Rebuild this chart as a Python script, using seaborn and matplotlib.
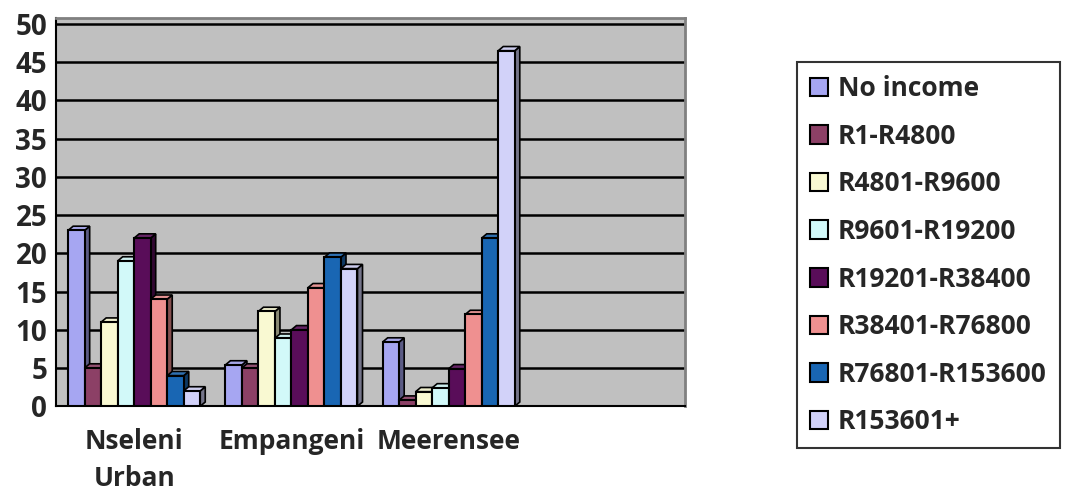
import pandas as pd
import matplotlib
matplotlib.use('Agg')
import matplotlib.pyplot as plt
from matplotlib.patches import Polygon
import seaborn as sns

# Chart data
areas = ['Nseleni\nUrban', 'Empangeni', 'Meerensee']
income_groups = ['No income', 'R1-R4800', 'R4801-R9600', 'R9601-R19200',
                 'R19201-R38400', 'R38401-R76800', 'R76801-R153600', 'R153601+']
nseleni = [23, 5, 11, 19, 22, 14, 4, 2]
empangeni = [5.4, 5, 12.4, 8.9, 10, 15.5, 19.5, 18]
meerensee = [8.4, 0.8, 1.9, 2.4, 4.9, 12, 22, 46.5]
colors = ['#9999FF', '#993366', '#FFFFCC', '#CCFFFF',
          '#660066', '#FF8080', '#0066CC', '#CCCCFF']

rows = []
for area, vals in zip(areas, [nseleni, empangeni, meerensee]):
    for grp, v in zip(income_groups, vals):
        rows.append({'Area': area, 'Income': grp, 'Percent': v})
df = pd.DataFrame(rows)

sns.set_style("white")
plt.rcParams['font.family'] = ['Open Sans', 'DejaVu Sans']
plt.rcParams['font.weight'] = 'bold'

fig = plt.figure(figsize=(10.68, 4.96), dpi=100)
ax = fig.add_axes([0.052, 0.181, 0.589, 0.783])
ax.set_facecolor('#C0C0C0')

sns.barplot(data=df, x='Area', y='Percent', hue='Income', order=areas,
            hue_order=income_groups, palette=colors, width=0.84,
            edgecolor='black', linewidth=1.5, ax=ax, zorder=3)

# fake 3D depth: side and top faces derived from each bar
dx, dy = 0.032, 0.55
for bar in ax.patches:
    x, y = bar.get_x(), bar.get_y()
    w, h = bar.get_width(), bar.get_height()
    if w == 0 or h != h:
        continue
    fc = bar.get_facecolor()
    dark = tuple(c * 0.55 for c in fc[:3])
    light = tuple(min(1, c * 0.85 + 0.1) for c in fc[:3])
    side = Polygon([(x + w, y), (x + w + dx, y + dy), (x + w + dx, y + h + dy), (x + w, y + h)],
                   closed=True, facecolor=dark, edgecolor='black', lw=1.2, zorder=2.9)
    top = Polygon([(x, y + h), (x + dx, y + h + dy), (x + w + dx, y + h + dy), (x + w, y + h)],
                  closed=True, facecolor=light, edgecolor='black', lw=1.2, zorder=2.9)
    ax.add_patch(side)
    ax.add_patch(top)

ax.set_xlim(-0.5, 3.5)
ax.set_ylim(0, 50.8)
ax.set_yticks(range(0, 51, 5))
ax.yaxis.grid(True, color='black', linewidth=1.8, zorder=0)
ax.set_axisbelow(True)

ax.set_xticks([-0.5, 0.5, 1.5, 2.5, 3.5], minor=False)
ax.set_xticklabels([])
ax.set_xticks([0, 1, 2], minor=True)
ax.set_xticklabels(areas, minor=True, fontsize=19, fontweight='bold', linespacing=1.45,
                   va='top')
ax.tick_params(axis='x', which='minor', length=0, pad=16)
ax.tick_params(axis='x', which='major', direction='out', length=6, width=1.5, color='black')
ax.tick_params(axis='y', direction='out', length=6, width=1.5, color='black',
               labelsize=20, pad=0)
for lbl in ax.get_yticklabels():
    lbl.set_fontweight('bold')

ax.set_xlabel('')
ax.set_ylabel('')
for side_name in ['top', 'right']:
    ax.spines[side_name].set_color('#808080')
    ax.spines[side_name].set_linewidth(2)
for side_name in ['left', 'bottom']:
    ax.spines[side_name].set_color('black')
    ax.spines[side_name].set_linewidth(1.5)

handles, labels = ax.get_legend_handles_labels()
ax.get_legend().remove()
for hnd in handles:
    hnd.set_edgecolor('black')
    hnd.set_linewidth(1.5)
leg = fig.legend(handles, labels, loc='upper left', bbox_to_anchor=(0.746, 0.875),
                 borderaxespad=0, frameon=True, fancybox=False, edgecolor='black',
                 handlelength=0.7, handleheight=0.7, handletextpad=0.35,
                 labelspacing=0.78, borderpad=0.5, prop={'weight': 'bold', 'size': 19})
leg.get_frame().set_linewidth(1.5)

fig.savefig('out.png', dpi=100)
